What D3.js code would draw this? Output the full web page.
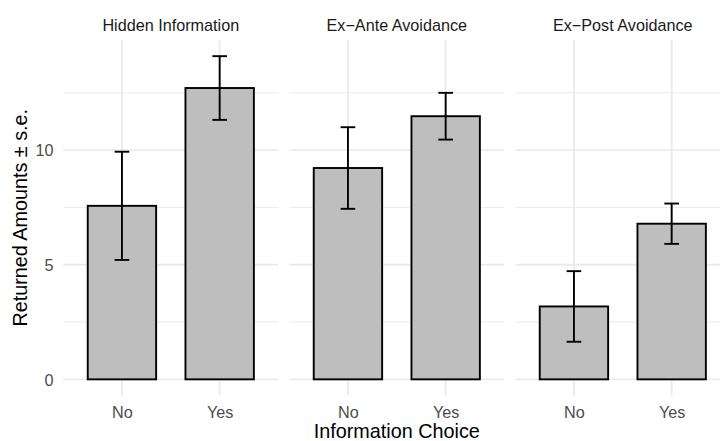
<!DOCTYPE html>
<html>
<head>
<meta charset="utf-8">
<script src="https://cdn.jsdelivr.net/npm/d3@7"></script>
<style>
  html, body { margin: 0; padding: 0; background: #fff; }
  svg { display: block; }
  text { font-family: "Liberation Sans", Arial, Helvetica, sans-serif; }
</style>
</head>
<body>
<svg id="chart" width="720" height="441"></svg>
<script>
// Treatment panels and the information choice on the x axis
const facets = ["Hidden Information", "Ex\u2212Ante Avoidance", "Ex\u2212Post Avoidance"];
const choices = ["No", "Yes"];

// Mean returned amounts per panel (No, Yes)
const meanHidden = [7.57, 12.71];
const meanExAnte = [9.22, 11.48];
const meanExPost = [3.18, 6.79];

// Standard errors per panel (No, Yes)
const seHidden = [2.36, 1.39];
const seExAnte = [1.78, 1.02];
const seExPost = [1.54, 0.88];

const yTicks = [0, 5, 10];
const yMinorTicks = [2.5, 7.5, 12.5];

const means = [meanHidden, meanExAnte, meanExPost];
const ses = [seHidden, seExAnte, seExPost];

const rows = [];
facets.forEach((f, i) => {
  choices.forEach((c, j) => {
    rows.push({ facet: f, choice: c, mean: means[i][j], se: ses[i][j] });
  });
});

const svg = d3.select("#chart");

// Layout
const panelTop = 40, panelBottom = 395.5;
const panelW = 215, panelGap = 11;
const firstLeft = 63.3;
const panelLeft = facets.map((f, i) => firstLeft + i * (panelW + panelGap));

const smallFont = 16.2;
const titleFont = 19.8;

// Scales: y is shared, x is a discrete scale per panel
const yMax = d3.max(rows, d => d.mean + d.se);
const yMin = 0;
const pad = (yMax - yMin) * 0.05;
const y = d3.scaleLinear().domain([yMin - pad, yMax + pad]).range([panelBottom, panelTop]);

const x = d3.scalePoint().domain(choices).range([0, panelW]).padding(0.6);
const step = x.step();
const barW = step * 0.7;
const capW = step * 0.15;

const gridColor = "#EBEBEB";

facets.forEach((f, i) => {
  const g = svg.append("g").attr("transform", `translate(${panelLeft[i]},0)`);

  // minor horizontal grid
  g.selectAll("line.minor").data(yMinorTicks).join("line")
    .attr("x1", 0).attr("x2", panelW)
    .attr("y1", d => y(d)).attr("y2", d => y(d))
    .attr("stroke", gridColor).attr("stroke-width", 1);

  // major horizontal grid
  g.selectAll("line.major").data(yTicks).join("line")
    .attr("x1", 0).attr("x2", panelW)
    .attr("y1", d => y(d)).attr("y2", d => y(d))
    .attr("stroke", gridColor).attr("stroke-width", 1.9);

  // vertical grid at categories
  g.selectAll("line.vgrid").data(choices).join("line")
    .attr("x1", d => x(d)).attr("x2", d => x(d))
    .attr("y1", panelTop).attr("y2", panelBottom)
    .attr("stroke", gridColor).attr("stroke-width", 1.9);

  const data = rows.filter(r => r.facet === f);

  // bars
  g.selectAll("rect.bar").data(data).join("rect")
    .attr("x", d => x(d.choice) - barW / 2)
    .attr("width", barW)
    .attr("y", d => y(d.mean))
    .attr("height", d => y(0) - y(d.mean))
    .attr("fill", "#BEBEBE")
    .attr("stroke", "#000")
    .attr("stroke-width", 1.9);

  // error bars
  const eb = g.selectAll("g.err").data(data).join("g");
  eb.append("line")
    .attr("x1", d => x(d.choice)).attr("x2", d => x(d.choice))
    .attr("y1", d => y(d.mean + d.se)).attr("y2", d => y(d.mean - d.se))
    .attr("stroke", "#000").attr("stroke-width", 1.9);
  eb.append("line")
    .attr("x1", d => x(d.choice) - capW / 2).attr("x2", d => x(d.choice) + capW / 2)
    .attr("y1", d => y(d.mean + d.se)).attr("y2", d => y(d.mean + d.se))
    .attr("stroke", "#000").attr("stroke-width", 1.9);
  eb.append("line")
    .attr("x1", d => x(d.choice) - capW / 2).attr("x2", d => x(d.choice) + capW / 2)
    .attr("y1", d => y(d.mean - d.se)).attr("y2", d => y(d.mean - d.se))
    .attr("stroke", "#000").attr("stroke-width", 1.9);

  // strip title
  g.append("text")
    .attr("x", panelW / 2).attr("y", 30.5)
    .attr("text-anchor", "middle")
    .attr("font-size", smallFont)
    .attr("fill", "#1A1A1A")
    .text(f);

  // x axis tick labels
  const xAxis = d3.axisBottom(x).tickSize(0).tickPadding(0);
  const xa = g.append("g").attr("transform", `translate(0,${panelBottom})`).call(xAxis);
  xa.select(".domain").remove();
  xa.selectAll("text")
    .attr("y", 0).attr("dy", 0)
    .attr("transform", "translate(0,22)")
    .attr("font-size", smallFont)
    .attr("font-family", "Liberation Sans, Arial, sans-serif")
    .attr("fill", "#4D4D4D");
});

// y axis tick labels on the first panel
const yAxis = d3.axisLeft(y).tickValues(yTicks).tickSize(0).tickPadding(0).tickFormat(d3.format("d"));
const ya = svg.append("g").attr("transform", `translate(53.5,0)`).call(yAxis);
ya.select(".domain").remove();
ya.selectAll("text")
  .attr("x", 0).attr("dy", "0.36em")
  .attr("font-size", smallFont)
  .attr("font-family", "Liberation Sans, Arial, sans-serif")
  .attr("fill", "#4D4D4D");

// axis titles
const plotRight = panelLeft[2] + panelW;
svg.append("text")
  .attr("x", (firstLeft + plotRight) / 2).attr("y", 437.5)
  .attr("text-anchor", "middle")
  .attr("font-size", titleFont)
  .attr("fill", "#000")
  .text("Information Choice");

svg.append("text")
  .attr("transform", `translate(26.5,${(panelTop + panelBottom) / 2}) rotate(-90)`)
  .attr("text-anchor", "middle")
  .attr("font-size", titleFont)
  .attr("fill", "#000")
  .text("Returned Amounts \u00B1 s.e.");
</script>
</body>
</html>
